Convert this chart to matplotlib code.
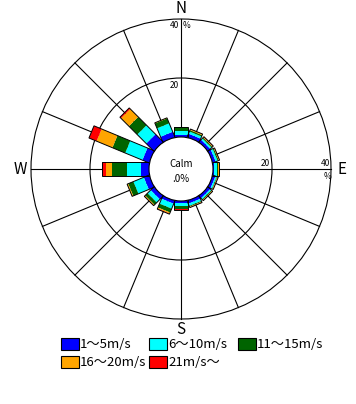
import numpy as np
import matplotlib
matplotlib.use("Agg")
import matplotlib.pyplot as plt
from matplotlib.patches import Polygon, Circle, Rectangle

plt.rcParams['font.family'] = ['Noto Sans CJK JP', 'DejaVu Sans']

# ---------------- data ----------------
directions = ["N", "NNE", "NE", "ENE", "E", "ESE", "SE", "SSE",
              "S", "SSW", "SW", "WSW", "W", "WNW", "NW", "NNW"]
speed_classes = ["1～5m/s", "6～10m/s", "11～15m/s", "16～20m/s", "21m/s～"]
class_colors = ["#0000FF", "#00FFFF", "#006400", "#FFA500", "#FF0000"]

# frequency (%) per direction for each speed class
s1_5   = [0.8, 1.2, 1.0, 1.0, 0.5, 0.9, 1.0, 1.0, 0.8, 1.0, 1.5, 1.9, 2.7, 2.4, 3.6, 1.9]
s6_10  = [1.4, 0.8, 0.6, 0.7, 1.0, 0.5, 0.5, 0.8, 0.9, 1.8, 1.5, 3.8, 4.9, 6.3, 4.3, 3.1]
s11_15 = [1.2, 0.5, 0.4, 0.4, 0.3, 0.2, 0.3, 0.3, 1.0, 1.4, 1.1, 1.9, 5.0, 4.7, 4.0, 1.8]
s16_20 = [0.1, 0.3, 0.2, 0.2, 0.1, 0.2, 0.2, 0.2, 0.1, 0.4, 0.3, 0.4, 2.0, 5.8, 3.8, 0.2]
s21_   = [0.0, 0.1, 0.2, 0.1, 0.0, 0.1, 0.1, 0.1, 0.1, 0.2, 0.1, 0.0, 1.3, 2.8, 0.5, 0.0]
calm_pct = 0.0
ring_ticks = [20, 40]
cardinal_labels = {"N": 0, "E": 90, "S": 180, "W": 270}

# ---------------- layout ----------------
W_PX, H_PX = 356, 404
CX, CY = 181, 169          # centre in pixels (from top-left)
PX_PER = 2.95              # pixels per percent
CALM_R = 32 / PX_PER       # calm-circle radius in percent units
HALF_W = 6.6 / PX_PER      # half width of bars

fig = plt.figure(figsize=(W_PX / 100, H_PX / 100), dpi=100)
ax = fig.add_axes([0, 0, 1, 1])
ax.set_xlim(-CX / PX_PER, (W_PX - CX) / PX_PER)
ax.set_ylim(-(H_PX - CY) / PX_PER, CY / PX_PER)
ax.axis("off")

def px(x, y):
    return (x - CX) / PX_PER, (CY - y) / PX_PER

rmax = CALM_R + ring_ticks[-1]
angles = np.arange(len(directions)) * 22.5

# radial lines
for a in angles:
    t = np.deg2rad(a)
    ax.plot([CALM_R * np.sin(t), rmax * np.sin(t)],
            [CALM_R * np.cos(t), rmax * np.cos(t)],
            color="black", lw=0.8, zorder=1)
# rings
for rt in ring_ticks:
    ax.add_patch(Circle((0, 0), CALM_R + rt, fill=False, ec="black", lw=0.8, zorder=1))

# bars
series = [s1_5, s6_10, s11_15, s16_20, s21_]
vals = np.array(series)
cum = np.vstack([np.zeros(len(directions)), np.cumsum(vals, axis=0)])
for i, a in enumerate(angles):
    t = np.deg2rad(a)
    u = np.array([np.sin(t), np.cos(t)])
    p = np.array([np.cos(t), -np.sin(t)])
    for k in range(len(series)):
        ra = (CALM_R + cum[k, i]) if k else 0.0
        rb = CALM_R + cum[k + 1, i]
        if rb <= ra or vals[k, i] <= 0:
            continue
        pts = [ra * u + HALF_W * p, rb * u + HALF_W * p,
               rb * u - HALF_W * p, ra * u - HALF_W * p]
        ax.add_patch(Polygon(pts, closed=True, fc=class_colors[k], ec="none", zorder=3))
    rtot = CALM_R + cum[-1, i]
    pts = [CALM_R * 0.5 * u + HALF_W * p, rtot * u + HALF_W * p,
           rtot * u - HALF_W * p, CALM_R * 0.5 * u - HALF_W * p]
    ax.add_patch(Polygon(pts, closed=True, fill=False, ec="black", lw=0.7, zorder=4))

# calm circle
ax.add_patch(Circle((0, 0), CALM_R, fc="white", ec="black", lw=0.8, zorder=5))
ax.text(0, 1.8, "Calm", ha="center", va="center", fontsize=7, zorder=6)
ax.text(0, -3.3, f".{int(calm_pct)}%", ha="center", va="center", fontsize=7, zorder=6)

# direction letters
for lab, a in cardinal_labels.items():
    t = np.deg2rad(a)
    rr = rmax + 3.6
    ax.text(rr * np.sin(t), rr * np.cos(t), lab, ha="center", va="center", fontsize=11)

# ring labels
fs = 6
ax.text(*px(179, 86), str(ring_ticks[0]), ha="right", va="center", fontsize=fs)
ax.text(*px(179, 26), str(ring_ticks[1]), ha="right", va="center", fontsize=fs)
ax.text(*px(183, 26), "%", ha="left", va="center", fontsize=fs)
ax.text(*px(270, 163), str(ring_ticks[0]), ha="right", va="center", fontsize=fs)
ax.text(*px(330, 163), str(ring_ticks[1]), ha="right", va="center", fontsize=fs)
ax.text(*px(327, 176), "%", ha="center", va="center", fontsize=fs)

# legend
leg_pos = [(61, 344), (149, 344), (238, 344), (61, 362), (149, 362)]
for (lx, ly), lab, col in zip(leg_pos, speed_classes, class_colors):
    x0, y0 = px(lx, ly + 6)
    ax.add_patch(Rectangle((x0, y0), 18 / PX_PER, 12 / PX_PER, fc=col, ec="black", lw=0.8))
    ax.text(*px(lx + 19, ly), lab, ha="left", va="center", fontsize=9.5)

fig.savefig("out.png", dpi=100, facecolor="white")
